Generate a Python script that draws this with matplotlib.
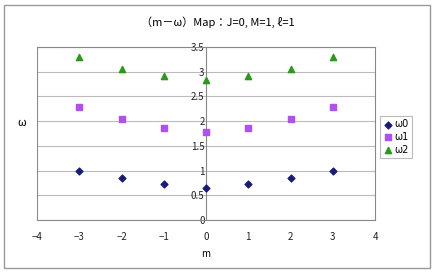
import matplotlib
matplotlib.use("Agg")
import matplotlib.pyplot as plt
from matplotlib.patches import Rectangle

plt.rcParams['font.family'] = ['Noto Sans CJK JP', 'DejaVu Sans']

m = [-3, -2, -1, 0, 1, 2, 3]
w0 = [1.00, 0.85, 0.72, 0.65, 0.72, 0.85, 1.00]
w1 = [2.29, 2.04, 1.86, 1.79, 1.86, 2.04, 2.29]
w2 = [3.29, 3.06, 2.91, 2.84, 2.91, 3.06, 3.29]
labels = ['ω0', 'ω1', 'ω2']

fig = plt.figure(figsize=(4.36, 2.73), dpi=100)
fig.patches.append(Rectangle((4 / 436, 5 / 273), 426 / 436, 263 / 273, transform=fig.transFigure,
                             fill=False, edgecolor='#999999', lw=1))
ax = fig.add_axes([37 / 436, 53 / 273, 338 / 436, 173 / 273])

ax.scatter(m, w0, marker='D', s=12, color='#1a1a7a', label=labels[0], zorder=3)
ax.scatter(m, w1, marker='s', s=14, color='#b050f0', label=labels[1], zorder=3)
ax.scatter(m, w2, marker='^', s=20, color='#2a9a18', label=labels[2], zorder=3)

ax.set_xlim(-4, 4)
ax.set_ylim(0, 3.5)
ax.set_xticks(range(-4, 5))
ax.set_yticks([0, 0.5, 1, 1.5, 2, 2.5, 3, 3.5])
ax.set_yticklabels(['0', '0.5', '1', '1.5', '2', '2.5', '3', '3.5'])
ax.grid(axis='y', color='#bbbbbb', lw=0.8)
ax.set_axisbelow(True)
for s in ax.spines.values():
    s.set_color('#888888')
    s.set_linewidth(0.8)
ax.spines['left'].set_position(('data', 0))
ax.axvline(-4, color='#888888', lw=0.8)
ax.tick_params(axis='both', labelsize=7, length=0, colors='#222222')
ax.tick_params(axis='x', pad=9)
ax.tick_params(axis='y', pad=1)

ax.set_xlabel('m', fontsize=7, labelpad=5)
fig.text(22 / 436, 1 - 123 / 273, 'ω', fontsize=8, ha='center', va='center')
fig.text(0.5, 1 - 22 / 273, '（m－ω）Map：J=0, M=1, ℓ=1', fontsize=8, ha='center', va='center')

leg = fig.legend(loc='center left', bbox_to_anchor=(380 / 436, 1 - 137 / 273),
                 prop={'family': ['DejaVu Sans'], 'size': 7},
                 frameon=True, fancybox=False, edgecolor='#aaaaaa', borderpad=0.3,
                 handletextpad=0.2, handlelength=1.0, labelspacing=0.3, borderaxespad=0)
leg.get_frame().set_linewidth(0.8)

fig.savefig('out.png', dpi=100)
